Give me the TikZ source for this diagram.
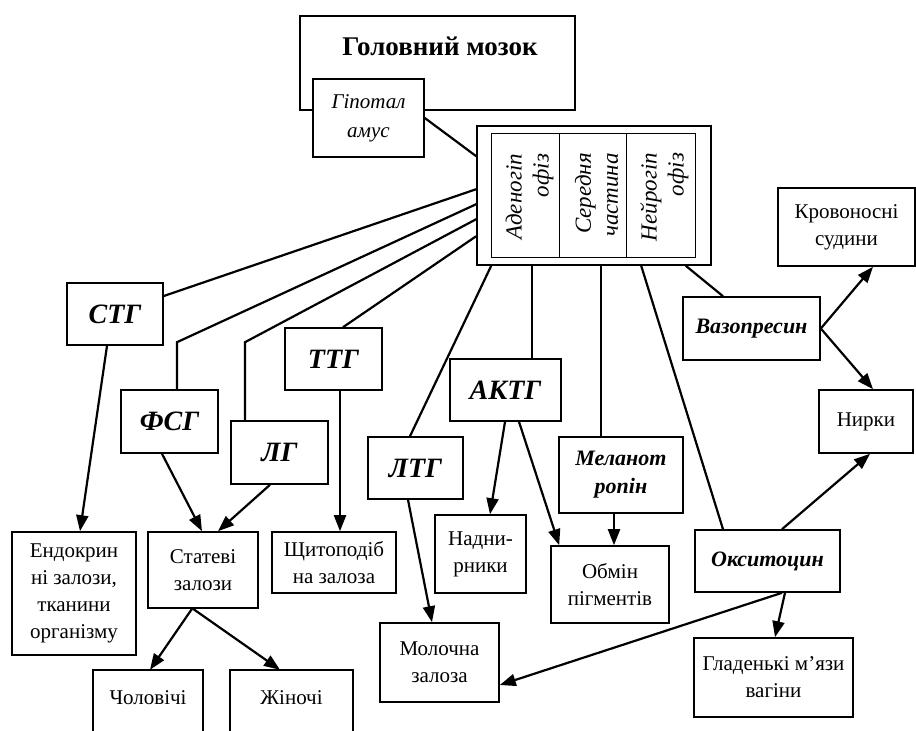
\documentclass[tikz,border=0pt]{standalone}
\usepackage{fontspec}
\setmainfont{Liberation Serif}
\usetikzlibrary{arrows.meta}
\tikzset{
  box/.style={draw, line width=1.6pt, fill=white, inner sep=0pt, align=center},
  plain/.style={font=\fontsize{21}{27}\selectfont},
  hormbig/.style={font=\bfseries\itshape\fontsize{28}{30}\selectfont},
  hormsmall/.style={font=\bfseries\itshape\fontsize{22}{28}\selectfont},
  rot/.style={rotate=90, align=right, inner sep=0pt, font=\itshape\fontsize{23}{27}\selectfont},
  conn/.style={line width=2.2pt},
  arr/.style={line width=2.2pt, -{Triangle[length=16pt,width=12pt]}},
  thinline/.style={line width=0.9pt}
}
\begin{document}
\begin{tikzpicture}[x=1pt,y=-1pt]
\fill[white] (0,0) rectangle (916,731);
\useasboundingbox (0,0) rectangle (916,731);

% brain and hypothalamus
\node[box, minimum width=275, minimum height=94] (brain) at (437.5,63) {};
\node[font=\bfseries\fontsize{27}{32}\selectfont] (braintitle) at (440,46) {Головний мозок};
\node[box, minimum width=111, minimum height=78, font=\itshape\fontsize{21}{29}\selectfont] (hyp) at (368.5,118) {Гіпотал\\амус};

% pituitary
\node[box, minimum width=234, minimum height=139] (pit) at (594,195.5) {};
\coordinate (inNW) at ([shift={(15pt,-8pt)}]pit.north west);
\coordinate (inSE) at ([shift={(-16pt,8pt)}]pit.south east);
\draw[thinline] (inNW) rectangle (inSE);
\draw[thinline] ([xshift=68pt]inNW) -- ([xshift=68pt]inNW |- inSE);
\draw[thinline] ([xshift=135pt]inNW) -- ([xshift=135pt]inNW |- inSE);
\node[rot] (colA) at (529.5,197) {Аденогіп\\офіз};
\node[rot] (colB) at (596.5,195) {Середня\\частина};
\node[rot] (colC) at (664.5,197) {Нейрогіп\\офіз};

% hormones
\node[box, hormbig, minimum width=96, minimum height=62] (stg) at (115,314) {СТГ};
\node[box, hormbig, minimum width=97, minimum height=63] (fsg) at (169.5,421.5) {ФСГ};
\node[box, hormbig, minimum width=97, minimum height=63] (lg) at (279.5,452.5) {ЛГ};
\node[box, hormbig, minimum width=97, minimum height=62] (ttg) at (333.5,359) {ТТГ};
\node[box, hormbig, minimum width=95, minimum height=62] (ltg) at (415.5,468) {ЛТГ};
\node[box, hormbig, minimum width=111, minimum height=62] (aktg) at (505.5,390) {АКТГ};
\node[box, hormsmall, minimum width=124, minimum height=76] (mel) at (621,475) {Меланот\\ропін};
\node[box, hormsmall, minimum width=137, minimum height=63] (vaz) at (751.5,328.5) {Вазопресин};
\node[box, hormsmall, minimum width=145, minimum height=62] (okc) at (767.5,561) {\raisebox{4pt}{Окситоцин}};

% targets
\node[box, plain, minimum width=137, minimum height=78] (blood) at (846.5,227) {Кровоносні\\судини};
\node[box, plain, minimum width=94, minimum height=63] (kid) at (866,421.5) {Нирки};
\node[box, plain, minimum width=159, minimum height=79] (smooth) at (773.5,677.5) {Гладенькі м’язи\\вагіни};
\node[box, plain, minimum width=119, minimum height=79] (milk) at (439.5,662.5) {Молочна\\залоза};
\node[box, plain, minimum width=91, minimum height=78] (adr) at (480.5,554) {Надни-\\рники};
\node[box, plain, minimum width=118, minimum height=77] (pig) at (610,584.5) {Обмін\\пігментів};
\node[box, plain, minimum width=124, minimum height=123] (endo) at (74,593.5) {Ендокрин\\ні залози,\\тканини\\організму};
\node[box, plain, minimum width=110, minimum height=76] (sex) at (203,570) {Статеві\\залози};
\node[box, plain, minimum width=124, minimum height=61] (thy) at (334,562.5) {Щитоподіб\\на залоза};
\node[plain, inner sep=0pt, minimum width=110, minimum height=61] (male) at (148,700.5) {\raisebox{6pt}{Чоловічі}};
\node[plain, inner sep=0pt, minimum width=123, minimum height=61] (fem) at (291.5,700.5) {\raisebox{6pt}{Жіночі}};
\draw[line width=1.6pt] ([yshift=-5pt]male.south west) -- (male.north west) -- (male.north east) -- ([yshift=-5pt]male.south east);
\draw[line width=1.6pt] ([yshift=-5pt]fem.south west) -- (fem.north west) -- (fem.north east) -- ([yshift=-5pt]fem.south east);

% connectors from hypothalamus / pituitary
\draw[conn] (hyp.east) -- ([yshift=-31pt]pit.north west);
\draw[conn] ([yshift=-64pt]pit.north west) -- ([yshift=18pt]stg.east);
\draw[conn] ([yshift=-79pt]pit.north west) -- ([xshift=7.5pt,yshift=47pt]fsg.north) -- ([xshift=7.5pt]fsg.north);
\draw[conn] ([yshift=-94pt]pit.north west) -- ([xshift=-34.5pt,yshift=78pt]lg.north) -- ([xshift=-34.5pt]lg.north);
\draw[conn] ([yshift=-111pt]pit.north west) -- ([xshift=9.5pt]ttg.north);
\draw[conn] ([xshift=15pt]pit.south west) -- ([xshift=-5.5pt]ltg.north);
\draw[conn] ([xshift=26.5pt]aktg.north) -- ([xshift=26.5pt]aktg.north |- pit.south);
\draw[conn] ([xshift=-20pt]mel.north) -- ([xshift=-20pt]mel.north |- pit.south);
\draw[conn] ([xshift=165pt]pit.south west) -- ([xshift=-44.5pt]okc.north);
\draw[conn] ([xshift=-26pt]pit.south east) -- ([xshift=-28.5pt]vaz.north);

% arrows
\draw[arr] (vaz.east) -- ([xshift=26.5pt]blood.south);
\draw[arr] (vaz.east) -- ([xshift=7pt]kid.north);
\draw[arr] ([xshift=14.5pt]okc.north) -- ([xshift=4pt]kid.south);
\draw[arr] ([xshift=17.5pt]okc.south) -- ([xshift=1.5pt]smooth.north);
\draw[arr] ([xshift=14.5pt]okc.south) -- ([yshift=-22.5pt]milk.east);
\draw[arr] ([xshift=-7.5pt]ltg.south) -- ([xshift=-7.5pt]milk.north);
\draw[arr] ([xshift=-0.5pt]aktg.south) -- ([xshift=9.5pt]adr.north);
\draw[arr] ([xshift=13.5pt]aktg.south) -- ([xshift=9pt]pig.north west);
\draw[arr] ([xshift=-7pt]mel.south) -- ([xshift=-7pt]mel.south |- pig.north);
\draw[arr] ([xshift=-8pt]stg.south) -- ([xshift=6pt]endo.north);
\draw[arr] ([xshift=-7.5pt]fsg.south) -- ([xshift=-1pt]sex.north);
\draw[arr] ([xshift=-9.5pt]lg.south) -- ([xshift=15pt]sex.north);
\draw[arr] ([xshift=6.5pt]ttg.south) -- ([xshift=6pt]thy.north);
\draw[arr] ([xshift=-11pt]sex.south) -- ([xshift=2pt]male.north);
\draw[arr] ([xshift=-10pt]sex.south) -- ([xshift=-11.5pt]fem.north);
\end{tikzpicture}
\end{document}
